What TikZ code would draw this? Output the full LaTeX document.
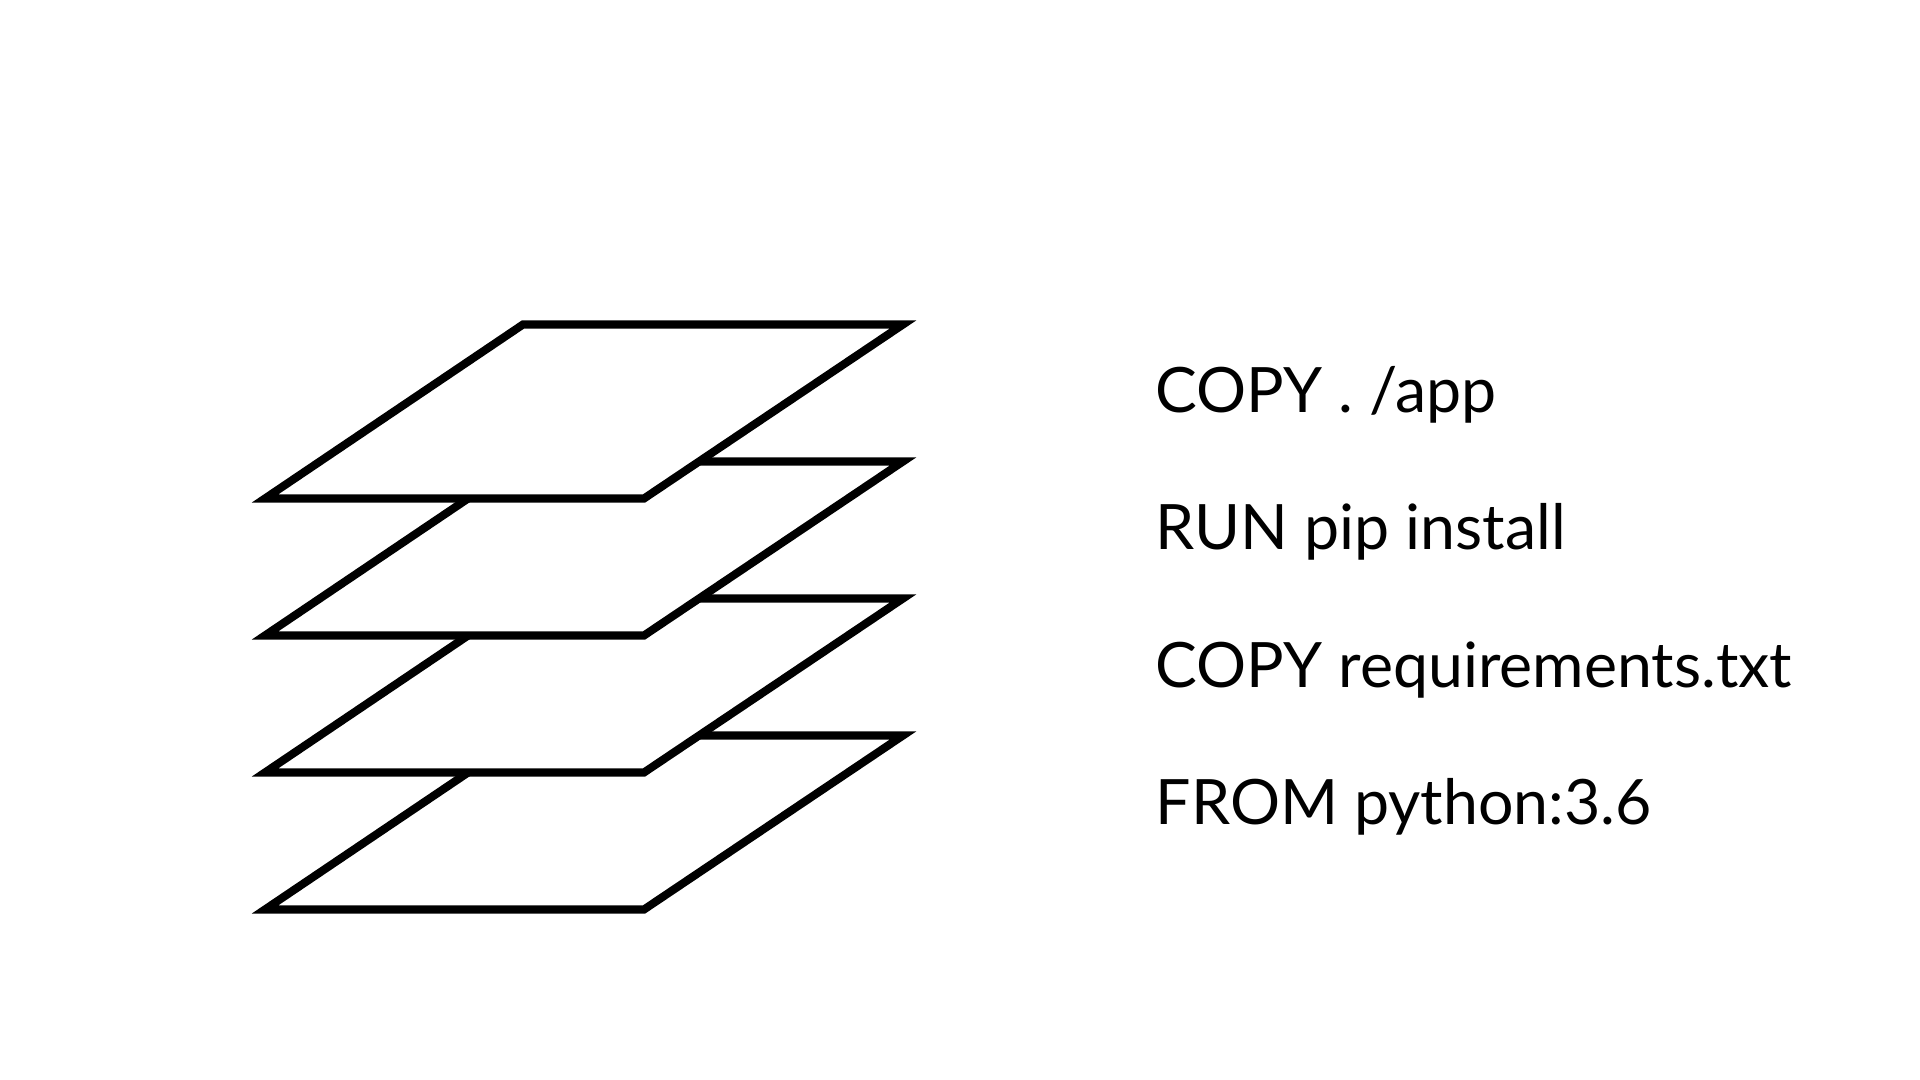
\documentclass[tikz,border=0pt]{standalone}
\usepackage{fontspec}
\setmainfont{Lato}
\begin{document}
\begin{tikzpicture}[x=0.01cm,y=-0.01cm]
            \useasboundingbox[fill=white] (0,0) rectangle (1920,1080);
            \tikzset{layer/.style={draw=black,fill=white,line width=2.3pt,line join=miter},
                     cmd/.style={anchor=base west,inner sep=0pt,font=\fontsize{17.8pt}{22pt}\selectfont}}
            \draw[layer] (523,735.5) -- (903,735.5) -- (644,909.5) -- (265,909.5) -- cycle;
            \draw[layer] (523,598.5) -- (903,598.5) -- (644,772.5) -- (265,772.5) -- cycle;
            \draw[layer] (523,461.5) -- (903,461.5) -- (644,635.5) -- (265,635.5) -- cycle;
            \draw[layer] (523,324.5) -- (903,324.5) -- (644,498.5) -- (265,498.5) -- cycle;
            \node[cmd] (copyapp) at (1155,412.7) {COPY . /app};
            \node[cmd] (runpip) at (1155,549.9) {RUN pip install};
            \node[cmd] (copyreq) at (1155,688) {COPY requirements.txt};
            \node[cmd] (frompy) at (1155,825) {FROM python:3.6};
        \end{tikzpicture}
\end{document}
